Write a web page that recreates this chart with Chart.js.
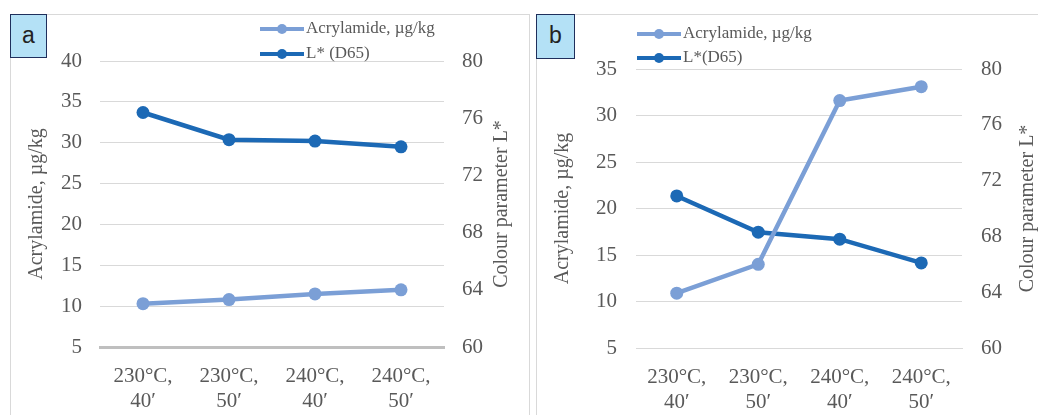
<!DOCTYPE html>
<html>
<head>
<meta charset="utf-8">
<script src="https://cdn.jsdelivr.net/npm/chart.js@4.4.1/dist/chart.umd.min.js"></script>
<style>
body{margin:0;background:#fff;width:1038px;height:415px;overflow:hidden;position:relative;font-family:"Liberation Serif",serif}
.panel{position:absolute;top:14px;height:420px;border:1px solid #d9d9d9;box-sizing:border-box}
#panelA{left:10px;width:520px}
#panelB{left:536px;width:540px}
.panel canvas{position:absolute;left:0;top:0}
.tag{position:absolute;left:-1px;top:-1px;box-sizing:border-box;background:#b4e1f6;border:1.5px solid #1f2f5c;
  font-family:"Liberation Sans",Arial,sans-serif;font-size:23px;color:#222;text-align:center;z-index:2}
#tagA{width:37px;height:44px;line-height:40px}
#tagB{width:39px;height:45px;line-height:41px}
.lg{position:absolute;height:20px;font-size:17px;color:#595959;white-space:nowrap;z-index:2}
.lg .ln{position:absolute;left:0;top:8px;width:44px;height:4px}
.lg .dt{position:absolute;left:17px;top:5px;width:10px;height:10px;border-radius:50%}
.lg .tx{position:absolute;left:46px;top:-1px;line-height:20px}
</style>
</head>
<body>
<div class="panel" id="panelA"><div class="tag" id="tagA">a</div><canvas id="chartA" width="518" height="400"></canvas></div>
<div class="panel" id="panelB"><div class="tag" id="tagB">b</div><canvas id="chartB" width="501" height="400"></canvas></div>
<script>
// data
const categories = [['230°C,', '40′'], ['230°C,', '50′'], ['240°C,', '40′'], ['240°C,', '50′']];
const acrylamideA = [10.3, 10.8, 11.5, 12.0];
const lightnessA = [76.4, 74.5, 74.4, 74.0];
const acrylamideB = [10.9, 14.0, 31.6, 33.1];
const lightnessB = [70.9, 68.3, 67.8, 66.1];
const namesA = ['Acrylamide, µg/kg', 'L* (D65)'];
const namesB = ['Acrylamide, µg/kg', 'L*(D65)'];
const leftTicks = {A: [5, 40, 5], B: [5, 35, 5]};
const rightTicks = [60, 80, 4];

const lightBlue = '#7b9fd6';
const darkBlue = '#1c69b5';
const grey = '#595959';

// right axis title reads bottom-to-top, like the left one
const rightTitle = {
    id: 'rightTitle',
    afterDraw(chart, args, opts) {
        const s = chart.scales.y1;
        const ctx = chart.ctx;
        ctx.save();
        ctx.translate(s.right - opts.offset, (s.top + s.bottom) / 2);
        ctx.rotate(-Math.PI / 2);
        ctx.font = '20px "Liberation Serif"';
        ctx.fillStyle = grey;
        ctx.textAlign = 'center';
        ctx.textBaseline = 'middle';
        ctx.fillText(opts.text, 0, 0);
        ctx.restore();
    }
};

function makeChart(id, acr, lum, names, lt, g) {
    const tickFont = {family: 'Liberation Serif', size: 21, lineHeight: 1.2};
    new Chart(document.getElementById(id), {
        type: 'line',
        data: {
            labels: categories,
            datasets: [
                {label: names[0], data: acr, yAxisID: 'y', borderColor: lightBlue, backgroundColor: lightBlue,
                 borderWidth: 4.5, pointRadius: 6.5, pointBorderWidth: 0, tension: 0},
                {label: names[1], data: lum, yAxisID: 'y1', borderColor: darkBlue, backgroundColor: darkBlue,
                 borderWidth: 4.5, pointRadius: 6.5, pointBorderWidth: 0, tension: 0}
            ]
        },
        plugins: [rightTitle],
        options: {
            responsive: false,
            animation: false,
            layout: {padding: {top: g.top, left: 0, right: 0, bottom: 0}},
            plugins: {
                legend: {display: false},
                tooltip: {enabled: false},
                rightTitle: {text: 'Colour parameter L*', offset: g.rtOff}
            },
            scales: {
                x: {
                    offset: true,
                    grid: {display: false, drawTicks: false},
                    border: {display: true, color: g.axisColor, width: g.axisWidth},
                    ticks: {color: grey, font: tickFont, padding: g.xPad, maxRotation: 0, autoSkip: false},
                    afterFit: s => { s.height = g.xH; }
                },
                y: {
                    position: 'left',
                    min: lt[0], max: lt[1],
                    grid: {color: '#d9d9d9', lineWidth: 1, drawTicks: false},
                    border: {display: false},
                    ticks: {stepSize: lt[2], color: grey, font: tickFont, padding: g.yPad},
                    title: {display: true, text: 'Acrylamide, µg/kg', color: grey,
                            font: {family: 'Liberation Serif', size: 20, lineHeight: 1}, padding: {top: 16, bottom: 0}},
                    afterFit: s => { s.width = g.lw; }
                },
                y1: {
                    position: 'right',
                    min: rightTicks[0], max: rightTicks[1],
                    grid: {display: false, drawTicks: false},
                    border: {display: false},
                    ticks: {stepSize: rightTicks[2], color: grey, font: tickFont, padding: g.yPad},
                    afterFit: s => { s.width = g.rw; }
                }
            }
        }
    });
}

function makeLegend(names, colors, x, ys) {
    names.forEach((n, i) => {
        const d = document.createElement('div');
        d.className = 'lg';
        d.style.left = x + 'px';
        d.style.top = (ys[i] - 10) + 'px';
        d.innerHTML = `<div class="ln" style="background:${colors[i]}"></div>` +
            `<div class="dt" style="background:${colors[i]}"></div><div class="tx"></div>`;
        d.querySelector('.tx').textContent = n;
        document.body.appendChild(d);
    });
}

makeChart('chartA', acrylamideA, lightnessA, namesA, leftTicks.A,
    {top: 46, lw: 89, rw: 85, xH: 68, xPad: 17, yPad: 18, rtOff: 27, axisColor: '#bfbfbf', axisWidth: 3});
makeChart('chartB', acrylamideB, lightnessB, namesB, leftTicks.B,
    {top: 54, lw: 99, rw: 76, xH: 67, xPad: 17, yPad: 19, rtOff: 10, axisColor: '#d9d9d9', axisWidth: 1});

makeLegend(namesA, [lightBlue, darkBlue], 260, [29, 54]);
makeLegend(namesB, [lightBlue, darkBlue], 637, [34, 58]);
</script>
</body>
</html>
